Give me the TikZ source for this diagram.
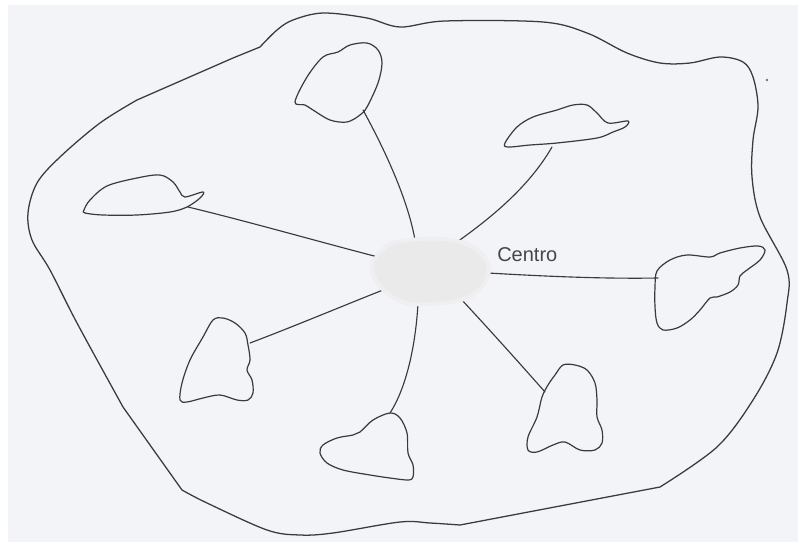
\documentclass[tikz,border=0pt]{standalone}
\usepackage{fontspec}
\newfontfamily\labelfont{Liberation Sans}
\definecolor{paper}{RGB}{243,244,247}
\definecolor{ink}{RGB}{58,58,62}
\definecolor{hubfill}{RGB}{234,234,235}
\definecolor{hubedge}{RGB}{239,239,241}
\definecolor{txt}{RGB}{70,70,74}
\tikzset{
  outline/.style={draw=ink, line width=0.95pt, line join=round, line cap=round},
  islet/.style={draw=ink, line width=0.9pt, line join=round},
  spoke/.style={draw=ink, line width=0.85pt, line cap=round},
  lbl/.style={font=\labelfont\fontsize{15}{18}\selectfont, text=txt, inner sep=0pt}
}
\begin{document}
\begin{tikzpicture}[x=0.75pt,y=-0.75pt]
\useasboundingbox (0,0) rectangle (798,542);
\fill[paper] (0,0) rectangle (798,542);
\fill[white] (0,0) rectangle (8,542);
\fill[white] (0,0) rectangle (798,5);

% outer boundary
\draw[outline] plot[smooth,tension=0.55] coordinates {(260,47)(277,30)(293,20)(323,13)(367,18)(400,27)(445,21)(543,22)(587,33)(627,53)(660,63)(690,63)(720,57)(743,62)(753,77)(758,107)(753,140)(752,177)(760,217)(787,270)(787,303)(777,353)(753,400)(717,447)(660,487)}
  -- (460,525)
  -- plot[smooth,tension=0.55] coordinates {(460,525)(430,523)(400,522)(333,533)(300,535)(267,530)(207,503)(182,490)}
  -- (123,407)
  -- plot[smooth,tension=0.55] coordinates {(123,407)(77,323)(50,270)(32,240)(28,213)(37,183)(60,157)(100,123)(137,100)}
  -- (233,58) -- cycle;

\fill[ink!70] (767,80) circle[radius=1.3];

% named anchor points of the spokes
\coordinate (hub) at (430,271);
\coordinate (tA) at (363,110);
\coordinate (tB) at (552,147);
\coordinate (tC) at (188,207);
\coordinate (tD) at (658,278);
\coordinate (tE) at (250,343);
\coordinate (tF) at (390,413);
\coordinate (tG) at (545,392);
\coordinate (hA) at (415,240);
\coordinate (hB) at (457,242);
\coordinate (hC) at (378,257);
\coordinate (hD) at (488,273);
\coordinate (hE) at (383,290);
\coordinate (hF) at (418,303);
\coordinate (hG) at (460,298);

% spokes
\draw[spoke] (tA) .. controls (385,150) and (408,200) .. (hA);
\draw[spoke] (tB) .. controls (530,185) and (495,215) .. (hB);
\draw[spoke] (tC) .. controls (250,222) and (320,242) .. (hC);
\draw[spoke] (tD) .. controls (600,279) and (540,276) .. (hD);
\draw[spoke] (tE) .. controls (295,326) and (345,305) .. (hE);
\draw[spoke] (tF) .. controls (408,385) and (416,340) .. (hF);
\draw[spoke] (tG) .. controls (530,375) and (490,330) .. (hG);

% hub (Centro)
\fill[hubedge] plot[smooth cycle,tension=0.6] coordinates {(374,257)(388,243)(410,238)(443,237)(472,244)(490,262)(488,281)(475,296)(457,303)(427,306)(405,305)(385,294)(372,278)(370,264)};
\fill[hubfill] plot[smooth cycle,tension=0.6] coordinates {(378,258)(391,246)(411,242)(443,241)(469,248)(485,263)(484,280)(472,292)(456,299)(427,302)(407,301)(388,291)(376,276)(374,264)};
\node[lbl, anchor=west] (centro) at (497,255) {Centro};

% islets
\draw[islet] plot[smooth cycle,tension=0.55] coordinates {(295,102)(307,77)(323,57)(338,52)(350,45)(367,43)(378,50)(382,63)(378,83)(367,107)(360,115)(347,122)(330,120)(313,110)(305,105)};
\draw[islet] plot[smooth cycle,tension=0.55] coordinates {(505,143)(517,127)(533,117)(557,110)(573,105)(587,105)(597,113)(608,123)(628,121)(625,127)(613,132)(597,138)(557,143)(530,145)(508,147)};
\draw[islet] plot[smooth cycle,tension=0.55] coordinates {(84,210)(90,200)(107,186)(137,178)(160,175)(173,182)(180,192)(185,197)(203,192)(200,198)(187,207)(170,212)(137,215)(103,215)(85,213)};
\draw[islet] plot[smooth cycle,tension=0.55] coordinates {(657,271)(670,260)(687,255)(710,257)(720,253)(740,248)(758,246)(765,250)(760,260)(747,270)(740,276)(738,285)(730,292)(717,297)(710,298)(700,310)(690,320)(677,328)(663,330)(657,323)(655,307)(655,287)};
\draw[islet] plot[smooth cycle,tension=0.55] coordinates {(213,320)(223,318)(235,323)(245,333)(248,345)(250,360)(247,370)(252,380)(253,393)(248,400)(237,400)(220,395)(203,398)(187,402)(180,400)(182,383)(190,360)(203,337)};
\draw[islet] plot[smooth cycle,tension=0.55] coordinates {(390,413)(400,418)(407,433)(408,453)(413,465)(413,477)(408,480)(390,478)(370,475)(343,470)(327,463)(320,453)(323,445)(337,438)(353,435)(360,432)(373,420)};
\draw[islet] plot[smooth cycle,tension=0.55] coordinates {(563,365)(575,365)(587,370)(595,383)(597,400)(597,417)(602,430)(602,443)(595,450)(580,450)(565,442)(553,445)(537,452)(528,450)(528,437)(537,417)(542,397)(548,385)(555,375)};
\end{tikzpicture}
\end{document}
